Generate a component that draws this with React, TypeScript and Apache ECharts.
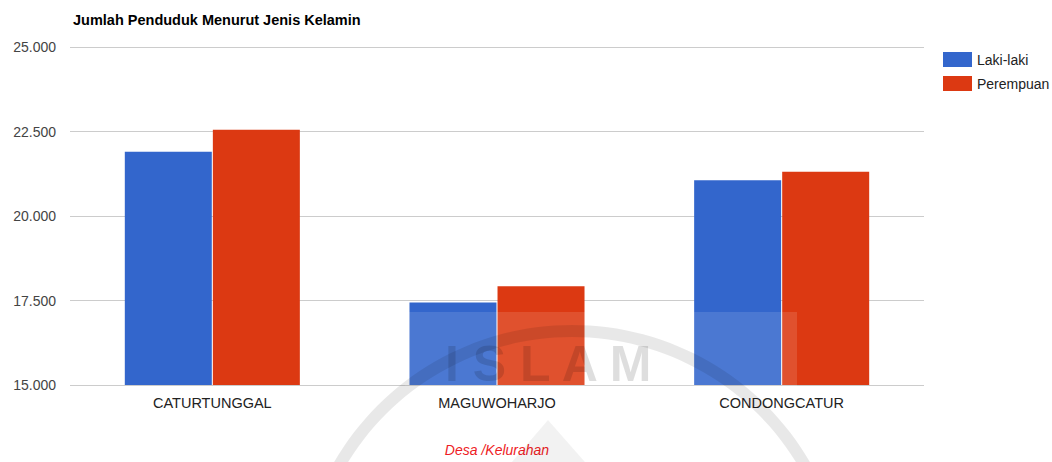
import React, { useEffect, useRef } from "react";
import * as echarts from "echarts";

const categories = ["CATURTUNGGAL", "MAGUWOHARJO", "CONDONGCATUR"];
const lakiLaki = [21900, 17440, 21060];
const perempuan = [22550, 17920, 21310];
const seriesNames = ["Laki-laki", "Perempuan"];
const chartTitle = "Jumlah Penduduk Menurut Jenis Kelamin";
const xAxisTitle = "Desa /Kelurahan";
const watermarkText = "I S L A M";

const fmt = (v: number) => {
  const s = Math.round(v).toString();
  return s.replace(/\B(?=(\d{3})+(?!\d))/g, ".");
};

export default function App() {
  const ref = useRef<HTMLDivElement>(null);
  useEffect(() => {
    if (!ref.current) return;
    const chart = echarts.init(ref.current, null, { renderer: "svg" });
    const font = "Liberation Sans, Arial, sans-serif";
    chart.setOption({
      animation: false,
      textStyle: { fontFamily: font },
      title: {
        text: chartTitle,
        left: 68,
        top: 7,
        textStyle: { fontSize: 14.5, fontWeight: "bold", color: "#000", fontFamily: font },
      },
      legend: {
        orient: "vertical",
        left: 938,
        top: 47,
        itemWidth: 29,
        itemHeight: 15,
        itemGap: 9,
        icon: "rect",
        textStyle: { fontSize: 14, color: "#222", fontFamily: font },
        data: seriesNames,
      },
      grid: { left: 70, right: 128, top: 47, bottom: 73 },
      xAxis: {
        type: "category",
        data: categories,
        name: xAxisTitle,
        nameLocation: "middle",
        nameGap: 58,
        nameTextStyle: { color: "#ee1c25", fontStyle: "italic", fontSize: 14, fontFamily: font },
        axisLine: { show: false },
        axisTick: { show: false },
        axisLabel: { color: "#222", fontSize: 14.5, margin: 10, fontFamily: font },
      },
      yAxis: {
        type: "value",
        min: 15000,
        max: 25000,
        interval: 2500,
        axisLine: { show: false },
        axisTick: { show: false },
        axisLabel: { color: "#444", fontSize: 14, margin: 14, formatter: fmt, fontFamily: font },
        splitLine: { lineStyle: { color: "#cccccc", width: 1 } },
      },
      series: [
        {
          name: seriesNames[0],
          type: "bar",
          data: lakiLaki,
          barWidth: 87,
          barGap: "1.2%",
          itemStyle: { color: "#3366cc" },
        },
        {
          name: seriesNames[1],
          type: "bar",
          data: perempuan,
          barWidth: 87,
          itemStyle: { color: "#dc3912" },
        },
      ],
      graphic: [
        {
          type: "rect",
          silent: true,
          z: 100,
          shape: { x: 405, y: 312, width: 392, height: 76 },
          style: { fill: "rgba(255,255,255,0.12)" },
        },
        {
          type: "ring",
          silent: true,
          z: 101,
          shape: { cx: 572, cy: 600, r: 275, r0: 263 },
          style: { fill: "rgba(0,0,0,0.09)" },
        },
        {
          type: "polygon",
          silent: true,
          z: 101,
          shape: { points: [[548, 420], [505, 470], [592, 470]] },
          style: { fill: "rgba(0,0,0,0.05)" },
        },
        {
          type: "text",
          silent: true,
          z: 102,
          x: 445,
          y: 339,
          style: {
            text: watermarkText,
            fill: "rgba(0,0,0,0.13)",
            font: "bold 50px Liberation Sans, Arial, sans-serif",
          },
        },
      ],
    });
    return () => chart.dispose();
  }, []);
  return (
    <div
      ref={ref}
      style={{ position: "absolute", left: 0, top: 0, width: 1052, height: 462 }}
    />
  );
}
